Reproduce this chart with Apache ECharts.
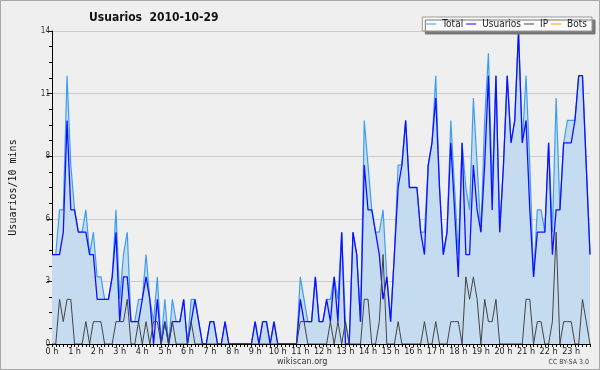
<!DOCTYPE html>
<html><head><meta charset="utf-8">
<script src="https://cdn.jsdelivr.net/npm/echarts@6/dist/echarts.min.js"></script>
<style>html,body{margin:0;padding:0;background:#efefef}#c{width:600px;height:370px}</style>
</head><body><div id="c"></div>
<script>
const hourLabels = ["0 h","1 h","2 h","3 h","4 h","5 h","6 h","7 h","8 h","9 h","10 h","11 h","12 h","13 h","14 h","15 h","16 h","17 h","18 h","19 h","20 h","21 h","22 h","23 h"];
const yTickLabels = ["0","3","6","8","11","14"];
const total = [4,4,6,6,12,8,6,5,5,6, 4,5,3,3,2,2,3,6,2,4, 5,1,1,2,2,4,2,1,3,0, 2,0,2,1,1,2,0,2,2,1,
  0,0,1,1,0,0,1,0,0,0, 0,0,0,0,1,0,1,1,0,1, 0,0,0,0,0,0,3,2,1,1, 3,1,1,2,2,3,2,5,1,0,
  5,4,1,10,8,6,5,5,6,3, 1,4,8,8,10,7,7,7,5,5, 8,9,12,7,4,5,10,7,4,9, 7,6,11,8,5,10,13,7,12,5,
  8,12,9,10,14,9,12,8,3,6, 6,5,9,5,11,6,9,10,10,10, 12,12,8,4];
const usuarios = [4,4,4,5,10,6,6,5,5,5, 4,4,2,2,2,2,3,5,1,3, 3,1,1,1,2,3,2,0,2,0, 1,0,1,1,1,2,0,1,2,1,
  0,0,1,1,0,0,1,0,0,0, 0,0,0,0,1,0,1,1,0,1, 0,0,0,0,0,0,2,1,1,1, 3,1,1,2,1,3,1,5,0,0,
  5,4,1,8,6,6,5,4,2,3, 1,4,7,8,10,7,7,7,5,4, 8,9,11,7,4,5,9,6,3,9, 4,4,8,6,5,8,12,6,12,5,
  8,12,9,10,14,9,10,6,3,5, 5,5,9,4,6,6,9,9,9,10, 12,12,8,4];
const ip = [0,0,2,1,2,2,0,0,0,1, 0,1,1,1,0,0,0,1,1,1, 2,0,0,1,0,1,0,1,1,0, 1,0,1,0,0,0,0,1,0,0,
  0,0,0,0,0,0,0,0,0,0, 0,0,0,0,0,0,0,0,0,0, 0,0,0,0,0,0,1,1,0,0, 0,0,0,0,1,0,1,0,1,0,
  0,0,0,2,2,0,0,1,4,0, 0,0,1,0,0,0,0,0,0,1, 0,0,1,0,0,0,1,1,1,0, 3,2,3,2,0,2,1,1,2,0,
  0,0,0,0,0,0,2,2,0,1, 1,0,0,1,5,0,1,1,1,0, 0,2,1,0];
const bots = [0,0,0,0,0,0,0,0,0,0, 0,0,0,0,0,0,0,0,0,0, 0,0,0,0,0,0,0,0,0,0, 0,0,0,0,0,0,0,0,0,0,
  0,0,0,0,0,0,0,0,0,0, 0,0,0,0,0,0,0,0,0,0, 0,0,0,0,0,0,0,0,0,0, 0,0,0,0,0,0,0,0,0,0,
  0,0,0,0,0,0,0,0,0,0, 0,0,0,0,0,0,0,0,0,0, 0,0,0,0,0,0,0,0,0,0, 0,0,0,0,0,0,0,0,0,0,
  0,0,0,0,0,0,0,0,0,0, 0,0,0,0,0,0,0,0,0,0, 0,0,0,0];

const slots = [];
for (let h = 0; h < 24; h++) for (let m = 0; m < 60; m += 10) slots.push(h + ':' + (m < 10 ? '0' : '') + m);

const F = "'DejaVu Sans Condensed','DejaVu Sans',sans-serif";
const chart = echarts.init(document.getElementById('c'), null, {renderer: 'canvas'});
chart.setOption({
  backgroundColor: '#efefef',
  animation: false,
  title: {
    text: 'Usuarios  2010-10-29', left: 84, top: 7,
    textStyle: {fontFamily: F, fontSize: 12, fontWeight: 'bold', color: '#111'}
  },
  legend: {
    right: 8, top: 17, icon: 'rect', itemWidth: 10, itemHeight: 1, itemGap: 3,
    backgroundColor: '#fafafa', borderColor: '#999', borderWidth: 1,
    shadowColor: '#777', shadowOffsetX: 3, shadowOffsetY: 3, shadowBlur: 0,
    padding: [2, 5, 2, 4],
    textStyle: {fontFamily: F, fontSize: 10, color: '#222', padding: [0, 0, 0, 1]},
    data: ['Total', 'Usuarios', 'IP', 'Bots']
  },
  grid: {left: 46, right: 10, top: 31, bottom: 26},
  xAxis: {
    type: 'category', data: slots, boundaryGap: false,
    axisLine: {lineStyle: {color: '#000', width: 1}},
    axisTick: {interval: 0, length: 3, lineStyle: {color: '#000'}},
    axisLabel: {
      interval: (i) => i % 6 === 0,
      formatter: (v, i) => hourLabels[Math.floor(i / 6)],
      fontFamily: F, fontSize: 9, color: '#222', margin: 3
    },
    splitLine: {show: false},
    z: 5
  },
  yAxis: {
    type: 'value', min: 0, max: 14, interval: 2.8,
    name: 'Usuarios/10 mins', nameLocation: 'middle', nameGap: 34,
    nameTextStyle: {fontFamily: "'DejaVu Sans Mono',monospace", fontSize: 10, color: '#111'},
    axisLine: {show: true, lineStyle: {color: '#000'}},
    axisTick: {show: true, length: 5, lineStyle: {color: '#000'}},
    minorTick: {show: true, splitNumber: 4, length: 3, lineStyle: {color: '#000'}},
    axisLabel: {
      formatter: (v) => yTickLabels[Math.round(v / 2.8)],
      fontFamily: F, fontSize: 8, color: '#333', margin: 2
    },
    splitLine: {lineStyle: {color: '#cccccc', width: 1}}
  },
  series: [
    {name: 'Total', type: 'line', data: total, symbol: 'none', z: 2,
      lineStyle: {color: '#3d9ef0', width: 1.2}, itemStyle: {color: '#3d9ef0'},
      areaStyle: {color: '#c5dcf0', opacity: 1}},
    {name: 'Usuarios', type: 'line', data: usuarios, symbol: 'none', z: 3,
      lineStyle: {color: '#1010ff', width: 1.3}, itemStyle: {color: '#1010ff'}},
    {name: 'IP', type: 'line', data: ip, symbol: 'none', z: 4,
      lineStyle: {color: '#444', width: 1}, itemStyle: {color: '#444'}},
    {name: 'Bots', type: 'line', data: bots, symbol: 'none', z: 1,
      lineStyle: {color: '#ff9900', width: 1}, itemStyle: {color: '#ff9900'}}
  ],
  graphic: [
    {type: 'rect', shape: {x: 0.5, y: 0.5, width: 599, height: 369}, style: {fill: 'none', stroke: '#a8a8a8', lineWidth: 1}, z: 100},
    {type: 'text', left: 277, top: 357, style: {text: 'wikiscan.org', font: "9px " + F, fill: '#333'}},
    {type: 'text', right: 11, top: 359, style: {text: 'CC BY-SA 3.0', font: "7px " + F, fill: '#444'}}
  ]
});
</script></body></html>
